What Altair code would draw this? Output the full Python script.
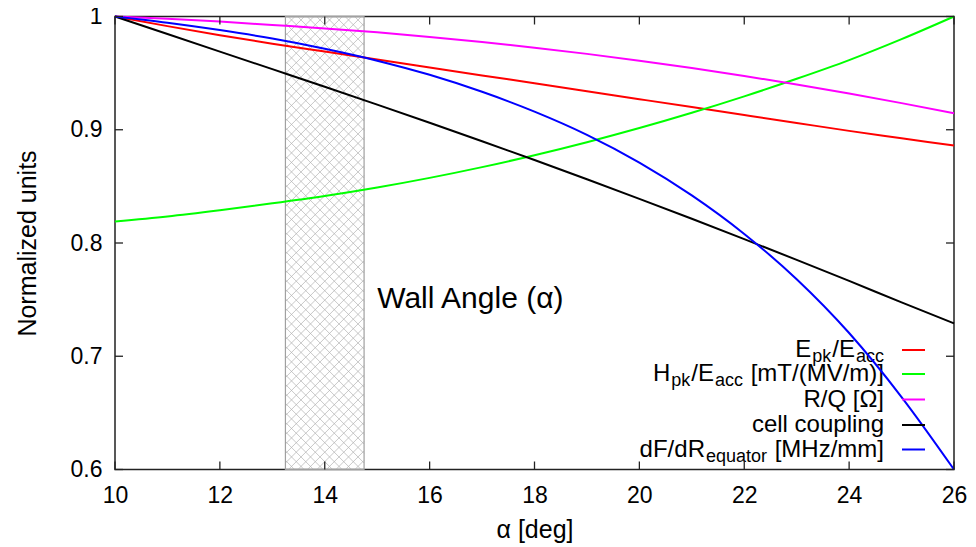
import altair as alt
import pandas as pd

# ---------------- data ----------------
alpha = [10, 11, 12, 13, 14, 15, 16, 17, 18, 19, 20, 21, 22, 23, 24, 25, 26]
epk_eacc = [1.000, 0.9915, 0.9835, 0.976, 0.969, 0.962, 0.955, 0.948, 0.941,
            0.934, 0.927, 0.920, 0.913, 0.906, 0.899, 0.8925, 0.886]
hpk_eacc = [0.819, 0.8235, 0.829, 0.835, 0.8415, 0.849, 0.8575, 0.867, 0.8775,
            0.889, 0.9015, 0.915, 0.9295, 0.945, 0.9615, 0.980, 1.000]
r_over_q = [1.000, 0.998, 0.9955, 0.9925, 0.9895, 0.986, 0.982, 0.9775, 0.9725,
            0.967, 0.961, 0.9545, 0.9475, 0.940, 0.932, 0.9235, 0.9146]
cell_coupling = [1.000, 0.9845, 0.969, 0.9535, 0.938, 0.9222, 0.9062, 0.8899, 0.8733,
                 0.8563, 0.839, 0.8214, 0.8034, 0.7851, 0.7665, 0.7476, 0.729]
df_dr = [1.000, 0.9945, 0.988, 0.9805, 0.9715, 0.961, 0.9485, 0.9335, 0.916,
         0.8955, 0.871, 0.842, 0.808, 0.768, 0.7205, 0.664, 0.600]

series_values = [epk_eacc, hpk_eacc, r_over_q, cell_coupling, df_dr]
series_names = ["Epk/Eacc", "Hpk/Eacc", "R/Q", "cell coupling", "dF/dR"]
series_colors = ["#ff0000", "#00ff00", "#ff00ff", "#000000", "#0000ff"]
# legend labels as (text, is_subscript) pieces
legend_labels = [
    [("E", 0), ("pk", 1), ("/E", 0), ("acc", 1)],
    [("H", 0), ("pk", 1), ("/E", 0), ("acc", 1), (" [mT/(MV/m)]", 0)],
    [("R/Q [Ω]", 0)],
    [("cell coupling", 0)],
    [("dF/dR", 0), ("equator", 1), (" [MHz/mm]", 0)],
]
x_ticks = [10, 12, 14, 16, 18, 20, 22, 24, 26]
y_ticks = [0.6, 0.7, 0.8, 0.9, 1.0]
band_range = [13.25, 14.75]
annotation = ["Wall Angle (α)"]
annotation_pos = [15.0, 0.7425]

# ---------------- layout / style ----------------
W, H = 839, 453
XD, YD = [10, 26], [0.6, 1.0]
FONT = "Liberation Sans"
TICK_FS, TITLE_FS = 23, 25
MAIN_FS, SUB_FS, SUB_DROP = 24, 18, 5
TICK_LEN = 8


def px2x(px):
    return XD[0] + px * (XD[1] - XD[0]) / W


def py2y(py):
    return YD[1] - py * (YD[1] - YD[0]) / H


xscale = alt.Scale(domain=XD, nice=False, zero=False)
yscale = alt.Scale(domain=YD, nice=False, zero=False)
xaxis = alt.Axis(title="α [deg]", values=x_ticks, format="d", ticks=False,
                 domain=False, grid=False, labelFont=FONT, labelFontSize=TICK_FS,
                 labelColor="black", labelPadding=15, labelFlush=False,
                 titleFont=FONT, titleFontSize=TITLE_FS, titleFontWeight="normal",
                 titleColor="black", titlePadding=10)
yaxis = alt.Axis(title="Normalized units", values=y_ticks, format=".1~f",
                 ticks=False, domain=False, grid=False, labelFont=FONT,
                 labelFontSize=TICK_FS, labelColor="black", labelPadding=13,
                 labelFlush=False, titleFont=FONT, titleFontSize=TITLE_FS,
                 titleFontWeight="normal", titleColor="black", titlePadding=30)


def X(field="x"):
    return alt.X(f"{field}:Q", scale=xscale, axis=xaxis)


def Y(field="y"):
    return alt.Y(f"{field}:Q", scale=yscale, axis=yaxis)


# ---------------- hatch band ----------------
p0 = (band_range[0] - XD[0]) * W / (XD[1] - XD[0])
p1 = (band_range[1] - XD[0]) * W / (XD[1] - XD[0])
bw = p1 - p0
spacing = 9.5
segs = []
c = -bw
while c < H:
    t0, t1 = max(0, -c), min(bw, H - c)
    if t1 > t0:
        segs.append((p0 + t0, t0 + c, p0 + t1, t1 + c))
    c += spacing
c = 0.0
while c < H + bw:
    t0, t1 = max(0, c - H), min(bw, c)
    if t1 > t0:
        segs.append((p0 + t0, c - t0, p0 + t1, c - t1))
    c += spacing
hatch_df = pd.DataFrame({
    "x": [px2x(s[0]) for s in segs], "y": [py2y(s[1]) for s in segs],
    "x2": [px2x(s[2]) for s in segs], "y2": [py2y(s[3]) for s in segs],
})
hatch = alt.Chart(hatch_df).mark_rule(color="#b0b0b0", strokeWidth=0.7).encode(
    x=X(), y=Y(), x2="x2:Q", y2="y2:Q")

band_df = pd.DataFrame({"x": [band_range[0]], "x2": [band_range[1]],
                        "y": [YD[0]], "y2": [YD[1]]})
band = alt.Chart(band_df).mark_rect(fill=None, stroke="#a0a0a0", strokeWidth=1.2).encode(
    x=X(), x2="x2:Q", y=Y(), y2="y2:Q")

# ---------------- curves ----------------
line_layers = []
for name, vals, col in zip(series_names, series_values, series_colors):
    d = pd.DataFrame({"x": alpha, "y": vals, "series": name})
    line_layers.append(
        alt.Chart(d).mark_line(color=col, strokeWidth=2, interpolate="monotone").encode(
            x=X(), y=Y()))

# ---------------- legend (text with subscripts) ----------------
AW = {" ": 278, "/": 278, "[": 278, "]": 278, "(": 333, ")": 333,
      "E": 667, "H": 722, "R": 722, "Q": 778, "M": 833, "V": 667, "T": 611,
      "F": 611, "Ω": 768, "a": 556, "c": 500, "d": 556, "e": 556, "g": 556,
      "i": 222, "k": 500, "l": 222, "m": 833, "n": 556, "o": 556, "p": 556,
      "q": 556, "r": 333, "t": 278, "u": 556, "z": 500}


def text_w(s, fs):
    return sum(AW.get(ch, 556) for ch in s) * fs / 1000.0


row_y = [333.5, 357.5, 383.0, 408.5, 433.0]   # view px of legend rows
text_right = 769
sample_x = [787, 810]
main_rows, sub_rows = [], []
for r, pieces in zip(row_y, legend_labels):
    right = text_right
    base = r + 7
    for txt, sub in reversed(pieces):
        fs = SUB_FS if sub else MAIN_FS
        row = {"x": px2x(right), "y": py2y(base + (SUB_DROP if sub else 0)), "t": txt}
        (sub_rows if sub else main_rows).append(row)
        right -= text_w(txt, fs) + 1
leg_main = alt.Chart(pd.DataFrame(main_rows)).mark_text(
    align="right", baseline="alphabetic", font=FONT, fontSize=MAIN_FS, color="black"
).encode(x=X(), y=Y(), text="t:N")
leg_sub = alt.Chart(pd.DataFrame(sub_rows)).mark_text(
    align="right", baseline="alphabetic", font=FONT, fontSize=SUB_FS, color="black"
).encode(x=X(), y=Y(), text="t:N")
sample_df = pd.DataFrame({
    "x": [px2x(sample_x[0])] * 5, "x2": [px2x(sample_x[1])] * 5,
    "y": [py2y(r) for r in row_y], "series": series_names})
samples = alt.Chart(sample_df).mark_rule(strokeWidth=2).encode(
    x=X(), x2="x2:Q", y=Y(),
    color=alt.Color("series:N", scale=alt.Scale(domain=series_names, range=series_colors),
                    legend=None))

# ---------------- annotation ----------------
ann = alt.Chart(pd.DataFrame({"x": [annotation_pos[0]], "y": [annotation_pos[1]],
                              "t": annotation})).mark_text(
    align="left", baseline="alphabetic", font=FONT, fontSize=30, color="black"
).encode(x=X(), y=Y(), text="t:N")

# ---------------- inward ticks on all four sides ----------------
xt = pd.DataFrame({"x": x_ticks})
yt = pd.DataFrame({"y": y_ticks})
tick_style = dict(color="#222222", strokeWidth=1.3)
t_bottom = alt.Chart(xt).mark_rule(**tick_style).encode(
    x=X(), y=alt.value(H), y2=alt.value(H - TICK_LEN))
t_top = alt.Chart(xt).mark_rule(**tick_style).encode(
    x=X(), y=alt.value(0), y2=alt.value(TICK_LEN))
t_left = alt.Chart(yt).mark_rule(**tick_style).encode(
    y=Y(), x=alt.value(0), x2=alt.value(TICK_LEN))
t_right = alt.Chart(yt).mark_rule(**tick_style).encode(
    y=Y(), x=alt.value(W), x2=alt.value(W - TICK_LEN))

chart = alt.layer(
    hatch, band, leg_main, leg_sub, *line_layers, samples, ann,
    t_bottom, t_top, t_left, t_right
).properties(
    width=W, height=H,
    autosize=alt.AutoSizeParams(type="none"),
    padding={"left": 107, "top": 8.5, "right": 14, "bottom": 77},
    background="white",
).configure_view(stroke="#222222", strokeWidth=1.5)

chart.save("out.html", embed_options={"renderer": "svg", "actions": False})
